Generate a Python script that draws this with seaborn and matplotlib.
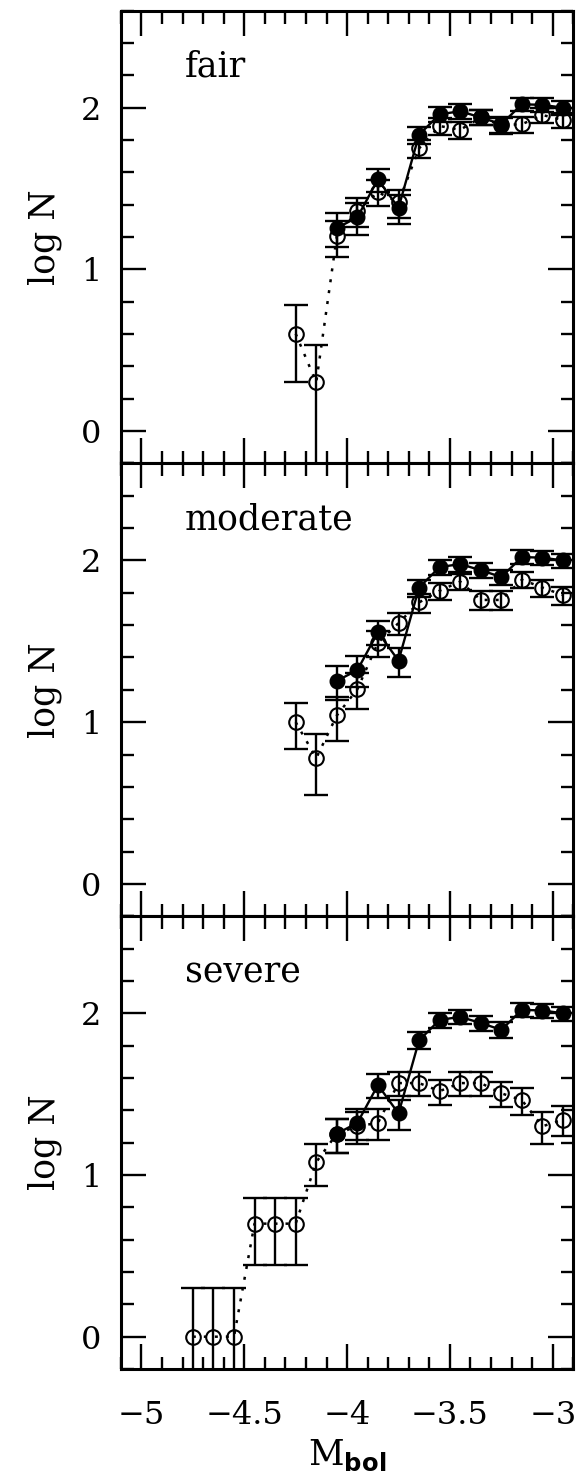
import numpy as np
import pandas as pd
import seaborn as sns
import matplotlib
matplotlib.use("Agg")
import matplotlib.pyplot as plt
from matplotlib.ticker import MultipleLocator, FixedLocator, FuncFormatter

# bins in M_bol (bin centres)
mag_ref = [-4.05, -3.95, -3.85, -3.75, -3.65, -3.55, -3.45, -3.35, -3.25, -3.15, -3.05, -2.95]
n_ref = [18, 21, 36, 24, 68, 91, 95, 87, 79, 105, 104, 100]  # filled points, same in all panels

mag_fair = [-4.25, -4.15, -4.05, -3.95, -3.85, -3.75, -3.65, -3.55, -3.45, -3.35, -3.25, -3.15, -3.05, -2.95]
n_fair = [4, 2, 16, 23, 30, 26, 56, 77, 73, 87, 78, 79, 90, 84]

mag_moderate = [-4.25, -4.15, -4.05, -3.95, -3.85, -3.75, -3.65, -3.55, -3.45, -3.35, -3.25, -3.15, -3.05, -2.95]
n_moderate = [10, 6, 11, 16, 31, 41, 55, 65, 74, 57, 57, 76, 68, 61]

mag_severe = [-4.75, -4.65, -4.55, -4.45, -4.35, -4.25, -4.15, -4.05, -3.95, -3.85, -3.75,
              -3.65, -3.55, -3.45, -3.35, -3.25, -3.15, -3.05, -2.95]
n_severe = [1, 1, 1, 5, 5, 5, 12, 18, 20, 21, 37, 37, 33, 37, 37, 32, 29, 20, 22]

paneles = [("fair", mag_fair, n_fair), ("moderate", mag_moderate, n_moderate), ("severe", mag_severe, n_severe)]

sns.set_style("ticks")
plt.rcParams["font.family"] = ["DejaVu Serif"]
plt.rcParams["mathtext.fontset"] = "custom"
plt.rcParams["mathtext.rm"] = "DejaVu Serif"
plt.rcParams["mathtext.bf"] = "DejaVu Sans:bold"
for k in ["axes.edgecolor", "text.color", "axes.labelcolor", "xtick.color", "ytick.color"]:
    plt.rcParams[k] = "black"

def tabla(mag, n):
    # log N con barras de Poisson (N +- sqrt N)
    n = np.array(n, dtype=float)
    t = pd.DataFrame({"mag": mag, "logN": np.log10(n)})
    baja = n - np.sqrt(n)
    t["lo"] = np.where(baja > 0, np.log10(np.clip(baja, 1e-3, None)), -5.0)
    t["hi"] = np.log10(n + np.sqrt(n))
    return t

ref = tabla(mag_ref, n_ref)

fig, axes = plt.subplots(3, 1, figsize=(5.81, 14.77), dpi=100, sharex=True)
fig.subplots_adjust(left=0.208, right=0.9868, top=0.9928, bottom=0.0731, hspace=0)

for ax, (nombre, mag, n) in zip(axes, paneles):
    t = tabla(mag, n)

    # abiertos: linea punteada
    ax.errorbar(t["mag"], t["logN"], yerr=[t["logN"] - t["lo"], t["hi"] - t["logN"]],
                fmt="none", ecolor="k", elinewidth=1.7, capsize=8.5, capthick=1.7, zorder=2)
    sns.lineplot(data=t, x="mag", y="logN", ax=ax, color="k", linestyle=(0, (1.2, 3.2)),
                 linewidth=1.8, marker="o", markersize=10.5, markerfacecolor="none",
                 markeredgecolor="k", markeredgewidth=1.5, errorbar=None, zorder=3)

    # llenos: linea solida
    ax.errorbar(ref["mag"], ref["logN"], yerr=[ref["logN"] - ref["lo"], ref["hi"] - ref["logN"]],
                fmt="none", ecolor="k", elinewidth=1.7, capsize=8.5, capthick=1.7, zorder=4)
    sns.lineplot(data=ref, x="mag", y="logN", ax=ax, color="k", linewidth=1.7,
                 marker="o", markersize=10.5, markerfacecolor="k", markeredgecolor="k",
                 markeredgewidth=1, errorbar=None, zorder=5)

    ax.text(-4.79, 2.19, nombre, fontsize=25, va="baseline", ha="left")

    ax.set_xlim(-5.1, -2.9)
    ax.set_ylim(-0.2, 2.6)
    ax.yaxis.set_major_locator(FixedLocator([0, 1, 2]))
    ax.yaxis.set_minor_locator(MultipleLocator(0.2))
    ax.xaxis.set_major_locator(MultipleLocator(0.5))
    ax.xaxis.set_minor_locator(MultipleLocator(0.1))
    ax.tick_params(which="both", direction="in", top=True, right=True, width=1.7, labelsize=23)
    ax.tick_params(which="major", length=18)
    ax.tick_params(which="minor", length=9)
    ax.tick_params(axis="y", pad=14)
    ax.tick_params(axis="x", pad=22)
    for s in ax.spines.values():
        s.set_linewidth(2.2)
    ax.set_ylabel("log N", fontsize=25, labelpad=14)
    ax.set_xlabel("")

axes[-1].xaxis.set_major_formatter(FuncFormatter(lambda v, p: ("%g" % v).replace("-", "\u2212")))
axes[-1].set_xlabel(r"$\mathrm{M}_{\mathbf{bol}}$", fontsize=25, labelpad=5)

fig.savefig("out.png", dpi=100)
